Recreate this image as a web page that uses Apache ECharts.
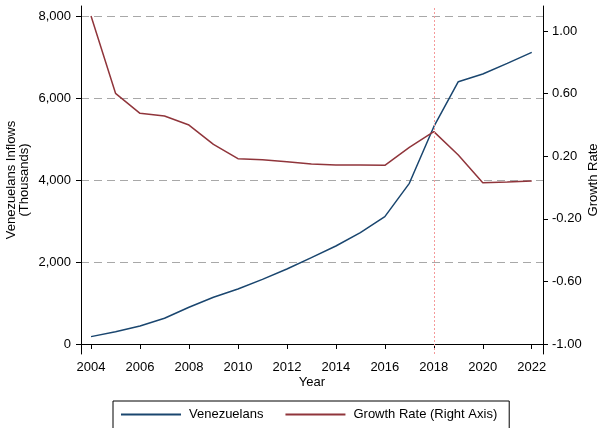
<!DOCTYPE html>
<html>
<head>
<meta charset="utf-8">
<script src="https://cdn.jsdelivr.net/npm/echarts@6/dist/echarts.min.js"></script>
<style>html,body{margin:0;padding:0;background:#fff;}#chart{width:599px;height:428px;}</style>
</head>
<body>
<div id="chart"></div>
<script>
var years = [2004,2005,2006,2007,2008,2009,2010,2011,2012,2013,2014,2015,2016,2017,2018,2019,2020,2021,2022];
var venezuelans = [180,300,440,627,895,1139,1341,1577,1829,2105,2390,2715,3106,3919,5300,6398,6585,6846,7114];
var growthRate = [1.096,0.602,0.474,0.457,0.399,0.276,0.184,0.178,0.165,0.150,0.144,0.144,0.142,0.257,0.357,0.208,0.031,0.036,0.042];
var xTicks = [2004,2006,2008,2010,2012,2014,2016,2018,2020,2022];
var leftTicks = [0,2000,4000,6000,8000];
var rightTicks = [-1.0,-0.6,-0.2,0.2,0.6,1.0];
var markYear = 2018;

var FONT = 'Liberation Sans, Arial, sans-serif';
var chart = echarts.init(document.getElementById('chart'));
function pairs(xs, ys){ return xs.map(function(x,i){ return [x, ys[i]]; }); }
var axisLineStyle = {show:true, lineStyle:{color:'#000', width:1}};
chart.setOption({
  animation:false,
  textStyle:{fontFamily:FONT},
  grid:{left:81, right:56, top:6, bottom:74, containLabel:false, outerBoundsMode:'none'},
  xAxis:{
    type:'value', min:2003.59, max:2022.46,
    name:'Year', nameLocation:'middle', nameGap:22, nameMoveOverlap:false,
    nameTextStyle:{color:'#000', fontSize:13, fontFamily:FONT},
    axisLine:axisLineStyle,
    axisTick:{show:true, length:5, lineStyle:{color:'#000'}, customValues:xTicks},
    axisLabel:{color:'#000', fontSize:13, fontFamily:FONT, margin:7, customValues:xTicks, formatter:function(v){return String(v);}},
    splitLine:{show:false}
  },
  yAxis:[{
    type:'value', min:-244, max:8244, position:'left',
    name:'Venezuelans Inflows\n(Thousands)', nameLocation:'middle', nameGap:50, nameRotate:90, nameMoveOverlap:false,
    nameTextStyle:{color:'#000', fontSize:13, fontFamily:FONT, lineHeight:13},
    axisLine:axisLineStyle,
    axisTick:{show:true, length:5, lineStyle:{color:'#000'}, customValues:leftTicks},
    axisLabel:{color:'#000', fontSize:13, fontFamily:FONT, margin:10, customValues:leftTicks,
      formatter:function(v){return v.toLocaleString('en-US');}},
    splitLine:{show:true, lineStyle:{color:'#a8a8a8', type:[8,5], width:1}}
  },{
    type:'value', min:-1.064, max:1.16, position:'right',
    name:'Growth Rate', nameLocation:'middle', nameGap:44, nameRotate:90, nameMoveOverlap:false,
    nameTextStyle:{color:'#000', fontSize:13, fontFamily:FONT},
    axisLine:axisLineStyle,
    axisTick:{show:true, length:5, lineStyle:{color:'#000'}, customValues:rightTicks},
    axisLabel:{color:'#000', fontSize:13, fontFamily:FONT, margin:9, customValues:rightTicks,
      formatter:function(v){return v.toFixed(2);}},
    splitLine:{show:false}
  }],
  legend:{
    left:113, top:401, orient:'horizontal',
    padding:[7,12,30,8], itemGap:22, itemWidth:60, itemHeight:2,
    borderColor:'#000', borderWidth:1,
    textStyle:{color:'#000', fontSize:13, fontFamily:FONT, padding:[0,0,0,3]},
    data:[{name:'Venezuelans', icon:'rect'},{name:'Growth Rate (Right Axis)', icon:'rect'}]
  },
  series:[{
    name:'Venezuelans', type:'line', yAxisIndex:0, data:pairs(years, venezuelans),
    showSymbol:false, symbol:'none', lineStyle:{color:'#1a466f', width:1.5}, itemStyle:{color:'#1a466f'},
    markLine:{silent:true, symbol:'none', label:{show:false},
      lineStyle:{color:'#f59a9a', type:[2,2], width:1, opacity:1},
      emphasis:{disabled:true},
      data:[{xAxis:markYear, lineStyle:{color:'#f59a9a', type:[2,2], width:1}}]}
  },{
    name:'Growth Rate (Right Axis)', type:'line', yAxisIndex:1, data:pairs(years, growthRate),
    showSymbol:false, symbol:'none', lineStyle:{color:'#90353b', width:1.5}, itemStyle:{color:'#90353b'}
  }]
});
</script>
</body>
</html>
